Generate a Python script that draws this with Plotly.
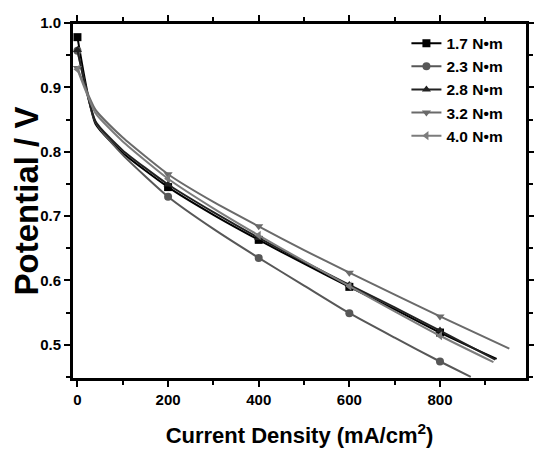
import plotly.graph_objects as go

# current density (mA/cm2) at which potentials were read
current = [0, 40, 100, 200, 300, 400, 500, 600, 700, 800]

series_names = ['1.7 N\u2022m', '2.3 N\u2022m', '2.8 N\u2022m', '3.2 N\u2022m', '4.0 N\u2022m']
end_current = [925, 868, 922, 953, 918]

pot_17 = [0.978, 0.843, 0.798, 0.745, 0.702, 0.663, 0.626, 0.590, 0.555, 0.519, 0.478]
pot_23 = [0.957, 0.846, 0.795, 0.730, 0.680, 0.635, 0.592, 0.549, 0.511, 0.474, 0.450]
pot_28 = [0.958, 0.847, 0.802, 0.749, 0.706, 0.666, 0.629, 0.593, 0.558, 0.522, 0.477]
pot_32 = [0.930, 0.865, 0.822, 0.765, 0.722, 0.684, 0.647, 0.612, 0.578, 0.544, 0.494]
pot_40 = [0.928, 0.860, 0.816, 0.758, 0.712, 0.670, 0.630, 0.591, 0.552, 0.514, 0.473]

potentials = [pot_17, pot_23, pot_28, pot_32, pot_40]
# markers drawn only at these currents
marker_at = [0, 200, 400, 600, 800]

colors = ['#000000', '#575757', '#222222', '#6a6a6a', '#7c7c7c']
symbols = ['square', 'circle', 'triangle-up', 'triangle-down', 'triangle-left']

font = 'Liberation Sans, Arial, sans-serif'
x_range = [-12, 992]
y_range = [0.4468, 1.0]

traces = []
for name, end, pot, col, sym in zip(series_names, end_current, potentials, colors, symbols):
    xs = current + [end]
    mcol = [col if x in marker_at else 'rgba(0,0,0,0)' for x in xs]
    traces.append(
        go.Scatter(
            x=xs,
            y=pot,
            name=name,
            mode='lines+markers',
            line=dict(color=col, width=2, shape='spline', smoothing=0.5),
            marker=dict(symbol=sym, size=8, color=mcol, line=dict(width=0)),
        )
    )

fig = go.Figure(data=traces)

axis_common = dict(
    showline=True,
    linecolor='black',
    linewidth=2,
    mirror='allticks',
    showgrid=False,
    zeroline=False,
    ticks='outside',
    ticklen=6,
    tickwidth=2,
    tickcolor='black',
    tickfont=dict(family=font, size=15, color='black', weight='bold'),
)

# page body has an 8px margin, so the figure is shrunk by that much
fig.update_layout(
    width=534,
    height=452,
    margin=dict(l=64, r=7, t=7, b=81),
    paper_bgcolor='white',
    plot_bgcolor='white',
    showlegend=True,
    legend=dict(
        x=0.735,
        y=0.99,
        xanchor='left',
        yanchor='top',
        bgcolor='rgba(0,0,0,0)',
        font=dict(family=font, size=15.5, color='black', weight='bold'),
        tracegroupgap=0,
    ),
    shapes=[
        dict(
            type='rect',
            xref='paper',
            yref='paper',
            x0=0,
            x1=1,
            y0=0,
            y1=1,
            line=dict(color='black', width=2),
            layer='above',
        )
    ],
    xaxis=dict(
        axis_common,
        range=x_range,
        tick0=0,
        dtick=200,
        minor=dict(dtick=100, ticklen=4, tickwidth=2, tickcolor='black', ticks='outside'),
        title=dict(
            text='Current Density (mA/cm<sup>2</sup>)',
            font=dict(family=font, size=22, color='black', weight='bold'),
            standoff=21,
        ),
    ),
    yaxis=dict(
        axis_common,
        range=y_range,
        tick0=0.5,
        dtick=0.1,
        tickformat='.1f',
        minor=dict(dtick=0.05, ticklen=4, tickwidth=2, tickcolor='black', ticks='outside'),
        title=dict(
            text='Potential / V',
            font=dict(family=font, size=33, color='black', weight='bold'),
            standoff=2,
        ),
    ),
)

fig.write_html('out.html')
